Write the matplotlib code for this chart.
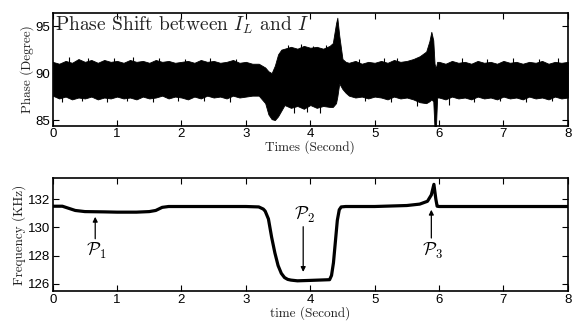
import matplotlib
matplotlib.use('Agg')
import matplotlib.pyplot as plt

# Phase shift: upper and lower envelope of the noisy trace (Degree)
t_phase = [0.0, 0.1, 0.2, 0.3, 0.4, 0.5, 0.6, 0.7, 0.8, 0.9, 1.0, 1.1, 1.2, 1.3, 1.4,
           1.5, 1.6, 1.7, 1.8, 1.9, 2.0, 2.1, 2.2, 2.3, 2.4, 2.5, 2.6, 2.7, 2.8, 2.9,
           3.0, 3.1, 3.2, 3.3, 3.35, 3.4, 3.45, 3.5, 3.55, 3.6, 3.7, 3.8, 3.9, 4.0,
           4.1, 4.2, 4.3, 4.35, 4.4, 4.42, 4.45, 4.5, 4.55, 4.6, 4.7, 4.8, 4.9, 5.0,
           5.1, 5.2, 5.3, 5.4, 5.5, 5.6, 5.7, 5.8, 5.85, 5.88, 5.91, 5.93, 5.95, 5.97,
           6.0, 6.1, 6.2, 6.3, 6.4, 6.5, 6.6, 6.7, 6.8, 6.9, 7.0, 7.1, 7.2, 7.3, 7.4,
           7.5, 7.6, 7.7, 7.8, 7.9, 8.0]
phase_hi = [91.2, 91.0, 91.3, 91.1, 91.5, 91.2, 91.4, 91.1, 91.4, 91.2, 91.3, 91.1, 91.4, 91.2, 91.3,
            91.1, 91.4, 91.2, 91.3, 91.1, 91.2, 91.3, 91.1, 91.4, 91.2, 91.3, 91.1, 91.2, 91.4, 91.1,
            91.2, 91.0, 91.0, 90.6, 90.2, 90.0, 90.8, 92.0, 92.5, 92.6, 92.8, 92.6, 92.9, 92.7,
            92.8, 92.6, 92.9, 93.2, 95.3, 95.9, 94.0, 91.5, 91.2, 91.1, 91.3, 91.0, 91.2, 91.1,
            91.3, 91.1, 91.4, 91.2, 91.3, 91.5, 91.8, 92.3, 93.4, 94.4, 93.5, 91.0, 90.5, 91.2,
            91.2, 91.0, 91.3, 91.1, 91.2, 91.0, 91.3, 91.1, 91.2, 91.0, 91.3, 91.1, 91.2, 91.0, 91.2,
            91.1, 91.3, 91.0, 91.2, 91.1, 91.2]
phase_lo = [87.6, 87.3, 87.5, 87.2, 87.4, 87.3, 87.5, 87.2, 87.4, 87.3, 87.5, 87.3, 87.4, 87.2, 87.5,
            87.3, 87.4, 87.6, 87.3, 87.5, 87.4, 87.2, 87.5, 87.3, 87.6, 87.4, 87.5, 87.3, 87.6, 87.4,
            87.5, 87.6, 87.6, 86.8, 85.6, 85.1, 85.0, 85.4, 86.0, 86.6, 86.3, 86.5, 86.2, 86.6,
            86.3, 86.5, 86.4, 86.4, 86.8, 87.5, 88.9, 88.3, 87.9, 87.6, 87.4, 87.5, 87.3, 87.5,
            87.4, 87.2, 87.5, 87.3, 87.4, 87.2, 86.9, 86.8, 87.0, 87.2, 87.0, 84.0, 84.0, 87.4,
            87.4, 87.2, 87.5, 87.3, 87.4, 87.2, 87.5, 87.3, 87.4, 87.2, 87.5, 87.3, 87.4, 87.2, 87.5,
            87.3, 87.4, 87.2, 87.5, 87.3, 87.4]

# Isolated noise spikes poking out of the band: time, tip value
spike_up_t = [0.25, 0.55, 0.95, 1.25, 1.65, 2.05, 2.45, 2.85, 3.65, 3.85, 4.05, 4.25,
              4.75, 5.15, 5.35, 6.35, 6.75, 7.15, 7.55, 7.85]
spike_up_v = [91.7, 91.6, 91.6, 91.7, 91.6, 91.5, 91.6, 91.5, 93.0, 93.1, 92.9, 93.0,
              91.5, 91.6, 91.6, 91.6, 91.5, 91.6, 91.5, 91.6]
spike_lo_t = [0.15, 0.45, 0.85, 1.15, 1.55, 1.95, 2.35, 2.75, 3.75, 3.95, 4.15,
              4.85, 5.25, 5.65, 6.15, 6.55, 6.95, 7.35, 7.75]
spike_lo_v = [86.9, 87.0, 86.9, 87.0, 86.9, 87.0, 87.0, 86.9, 85.8, 85.9, 85.8,
              87.0, 86.9, 86.5, 86.6, 86.9, 87.0, 86.9, 87.0]

# Frequency trace (KHz)
t_freq = [0.0, 0.15, 0.25, 0.35, 0.5, 0.8, 1.0, 1.3, 1.5, 1.6, 1.7, 1.8, 2.0, 3.0, 3.2,
          3.27, 3.3, 3.35, 3.4, 3.45, 3.5, 3.55, 3.6, 3.65, 3.7, 3.8, 4.0, 4.3,
          4.33, 4.36, 4.39, 4.42, 4.45, 4.48, 4.55,
          5.0, 5.5, 5.7, 5.82, 5.88, 5.92, 5.95, 5.97, 6.0, 8.0]
freq = [131.5, 131.5, 131.35, 131.2, 131.12, 131.1, 131.08, 131.08, 131.12, 131.2, 131.42, 131.48, 131.48, 131.48, 131.45,
        131.3, 131.15, 130.6, 129.3, 128.2, 127.3, 126.75, 126.45, 126.32, 126.27, 126.22, 126.25, 126.3,
        126.6, 127.5, 129.0, 130.5, 131.25, 131.45, 131.48,
        131.48, 131.55, 131.65, 131.85, 132.3, 133.05, 132.0, 131.5, 131.48, 131.48]

# Annotated points: label, arrow x, arrow tip y, tail y, text y
p_labels = [r'$\mathcal{P}_1$', r'$\mathcal{P}_2$', r'$\mathcal{P}_3$']
p_x = [0.66, 3.89, 5.88]
p_tip = [130.75, 126.85, 131.25]
p_tail = [129.2, 130.05, 129.25]
p_text = [128.3, 130.9, 128.3]

plt.rcParams['mathtext.fontset'] = 'cm'
tick_font = 'Liberation Sans'
label_font = 'cmr10'
label_color = '#222222'

fig = plt.figure(figsize=(5.73, 3.22), dpi=100)
ax1 = fig.add_axes([0.092, 0.6096, 0.899, 0.35])
ax2 = fig.add_axes([0.092, 0.0963, 0.899, 0.351])

ax1.fill_between(t_phase, phase_lo, phase_hi, color='black', linewidth=0.6)
ax1.vlines(spike_up_t, 90, spike_up_v, color='black', linewidth=0.8)
ax1.vlines(spike_lo_t, spike_lo_v, 89, color='black', linewidth=0.8)
ax1.set_xlim(0, 8)
ax1.set_ylim(84.4, 96.4)
ax1.set_yticks([85, 90, 95])
ax1.set_xlabel('Times (Second)', fontfamily=label_font, fontsize=9.5, labelpad=0,
               color=label_color)
ax1.set_ylabel('Phase (Degree)', fontfamily=label_font, fontsize=9.5, labelpad=1,
               color=label_color)
ax1.text(0.004, 0.985, r'Phase Shift between $I_L$ and $I$', transform=ax1.transAxes,
         fontfamily=label_font, fontsize=14, va='top', ha='left', color=label_color)

ax2.plot(t_freq, freq, color='black', linewidth=2.3)
ax2.set_xlim(0, 8)
ax2.set_ylim(125.5, 133.5)
ax2.set_yticks([126, 128, 130, 132])
ax2.set_xlabel('time (Second)', fontfamily=label_font, fontsize=9.5, labelpad=0,
               color=label_color)
ax2.set_ylabel('Frequency (KHz)', fontfamily=label_font, fontsize=9.5, labelpad=1,
               color=label_color)
for lab, x, tip, tail, ty in zip(p_labels, p_x, p_tip, p_tail, p_text):
    ax2.annotate('', xy=(x, tip), xytext=(x, tail),
                 arrowprops=dict(arrowstyle='-|>', color='black', lw=0.9,
                                 mutation_scale=7, shrinkA=0, shrinkB=0))
    ax2.text(x + 0.02, ty, lab, fontsize=13, ha='center', va='center')

for ax in (ax1, ax2):
    ax.set_xticks(range(0, 9))
    ax.tick_params(direction='in', top=True, right=True, length=4, width=0.8,
                   labelsize=9.5, pad=2)
    for lbl in ax.get_xticklabels() + ax.get_yticklabels():
        lbl.set_fontfamily(tick_font)
    for s in ax.spines.values():
        s.set_linewidth(1.2)

fig.savefig('out.png', dpi=100)
